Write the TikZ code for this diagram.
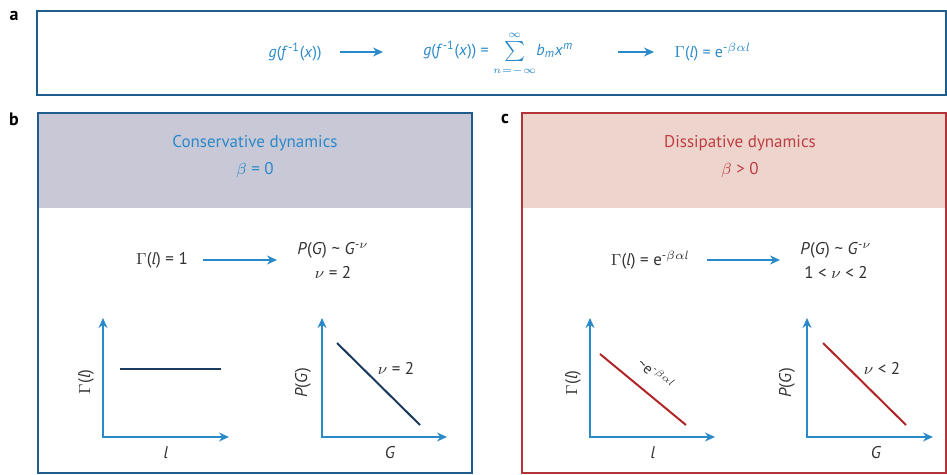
\documentclass[tikz,border=0pt]{standalone}
\usepackage{fontspec}
\setmainfont{PT Sans}
\usetikzlibrary{arrows.meta,positioning}

\definecolor{textblue}{RGB}{42,137,201}
\definecolor{frameblue}{RGB}{31,93,140}
\definecolor{framered}{RGB}{178,52,56}
\definecolor{titlered}{RGB}{190,62,66}
\definecolor{headgray}{RGB}{200,200,214}
\definecolor{headpink}{RGB}{237,212,204}
\definecolor{curvenavy}{RGB}{26,58,94}
\definecolor{curvered}{RGB}{176,38,40}
\definecolor{inkgray}{RGB}{50,50,50}

\newcommand{\tld}{\textasciitilde}

\tikzset{
  flow/.style={-{Stealth[length=5pt,width=4.5pt]}, draw=textblue, line width=0.7pt},
  axis/.style={{Stealth[length=5pt,width=4.5pt]}-{Stealth[length=5pt,width=4.5pt]}, draw=textblue, line width=0.7pt},
  tag/.style={font=\fontsize{9}{10}\selectfont\bfseries, text=black},
  eqa/.style={text=textblue, font=\fontsize{8}{10}\selectfont, inner sep=0pt},
  title/.style={font=\fontsize{8.5}{10}\selectfont},
  eqb/.style={text=inkgray, font=\fontsize{8.5}{12}\selectfont, align=center, inner sep=0pt},
  axlabel/.style={text=inkgray, font=\fontsize{8.5}{10}\selectfont},
}

\begin{document}
\begin{tikzpicture}[x=0.5pt, y=-0.5pt]
  \useasboundingbox (0,0) rectangle (947,475);

  % a
  \draw[frameblue, line width=1.3pt] (37,11) rectangle (946,95);
  \node[tag] (taga) at (14,16) {a};
  \node[eqa, anchor=east] (gfx) at (322,52) {\textit{g}(\textit{f}\textsuperscript{-1}(\textit{x}))};
  \node[eqa, anchor=west] (series) at (423,54) {\textit{g}(\textit{f}\textsuperscript{-1}(\textit{x})) = $\sum\limits_{\scriptscriptstyle n=-\infty}^{\scriptscriptstyle\infty}$\textit{b}\textsubscript{\textit{m}}\textit{x}\textsuperscript{\textit{m}}};
  \node[eqa, anchor=west] (gammaa) at (674,52) {$\Gamma$(\textit{l}) = e\textsuperscript{-$\beta\alpha$\textit{l}}};
  \draw[flow, shorten <=9pt, shorten >=20pt] (gfx.east) -- (series.west |- gfx.east);
  \draw[flow, shorten <=22pt, shorten >=10pt] (series.east |- gfx.east) -- (gammaa.west |- gfx.east);

  % b
  \fill[headgray] (38,113) rectangle (472,208);
  \draw[frameblue, line width=1.3pt] (38,113) rectangle (472,473);
  \node[tag] (tagb) at (14,119) {b};
  \node[title, text=textblue] (consv) at (255,143) {Conservative dynamics};
  \node[title, text=textblue] (beta0) at (255,170) {$\beta$ = 0};

  \node[eqb] (gamma1) at (162,260) {$\Gamma$(\textit{l}) = 1};
  \node[eqb] (powb) at (333,260) {\textit{P}(\textit{G}) \tld{} \textit{G}\textsuperscript{-$\nu$}\\$\nu$ = 2};
  \draw[flow, shorten <=7.5pt, shorten >=10pt] (gamma1.east) -- (powb.west |- gamma1.east);

  \coordinate (o1) at (103,437);
  \coordinate (y1) at (103,318);
  \coordinate (x1) at (229,437);
  \draw[axis] (y1) -- (o1) -- (x1);
  \coordinate (c1a) at (120,369);
  \coordinate (c1b) at (221,369);
  \draw[curvenavy, line width=1pt] (c1a) -- (c1b);
  \node[axlabel, rotate=90] (ylab1) at (86,382) {$\Gamma$(\textit{l})};
  \node[axlabel] (xlab1) at (166,453) {\textit{l}};

  \coordinate (o2) at (322,437);
  \coordinate (y2) at (322,318);
  \coordinate (x2) at (447,437);
  \draw[axis] (y2) -- (o2) -- (x2);
  \coordinate (c2a) at (337,343);
  \coordinate (c2b) at (420,425);
  \draw[curvenavy, line width=1pt] (c2a) -- (c2b);
  \node[axlabel] (nu2) at (396,368) {$\nu$ = 2};
  \node[axlabel, rotate=90] (ylab2) at (303,383) {\textit{P}(\textit{G})};
  \node[axlabel] (xlab2) at (390,453) {\textit{G}};

  % c
  \fill[headpink] (522,113) rectangle (946,208);
  \draw[framered, line width=1.3pt] (522,113) rectangle (946,473);
  \node[tag] (tagc) at (505,119) {c};
  \node[title, text=titlered] (dissv) at (740,143) {Dissipative dynamics};
  \node[title, text=titlered] (betapos) at (740,170) {$\beta$ > 0};

  \node[eqb] (gammae) at (650,260) {$\Gamma$(\textit{l}) = e\textsuperscript{-$\beta\alpha$\textit{l}}};
  \node[eqb] (powc) at (836,260) {\textit{P}(\textit{G}) \tld{} \textit{G}\textsuperscript{-$\nu$}\\1 < $\nu$ < 2};
  \draw[flow, shorten <=9pt, shorten >=10pt] (gammae.east) -- (powc.west |- gammae.east);

  \coordinate (o3) at (590,437);
  \coordinate (y3) at (590,318);
  \coordinate (x3) at (715,437);
  \draw[axis] (y3) -- (o3) -- (x3);
  \coordinate (c3a) at (600,354);
  \coordinate (c3b) at (686,425);
  \draw[curvered, line width=1pt] (c3a) -- (c3b)
    node[midway, above, sloped, yshift=3pt, axlabel, font=\fontsize{7.5}{9}\selectfont] (decay) {\tld{}e\textsuperscript{-$\beta\alpha$\textit{l}}};
  \node[axlabel, rotate=90] (ylab3) at (573,383) {$\Gamma$(\textit{l})};
  \node[axlabel] (xlab3) at (653,453) {\textit{l}};

  \coordinate (o4) at (807,437);
  \coordinate (y4) at (807,318);
  \coordinate (x4) at (933,437);
  \draw[axis] (y4) -- (o4) -- (x4);
  \coordinate (c4a) at (823,343);
  \coordinate (c4b) at (906,425);
  \draw[curvered, line width=1pt] (c4a) -- (c4b);
  \node[axlabel] (nu4) at (882,368) {$\nu$ < 2};
  \node[axlabel, rotate=90] (ylab4) at (787,383) {\textit{P}(\textit{G})};
  \node[axlabel] (xlab4) at (876,453) {\textit{G}};
\end{tikzpicture}
\end{document}
